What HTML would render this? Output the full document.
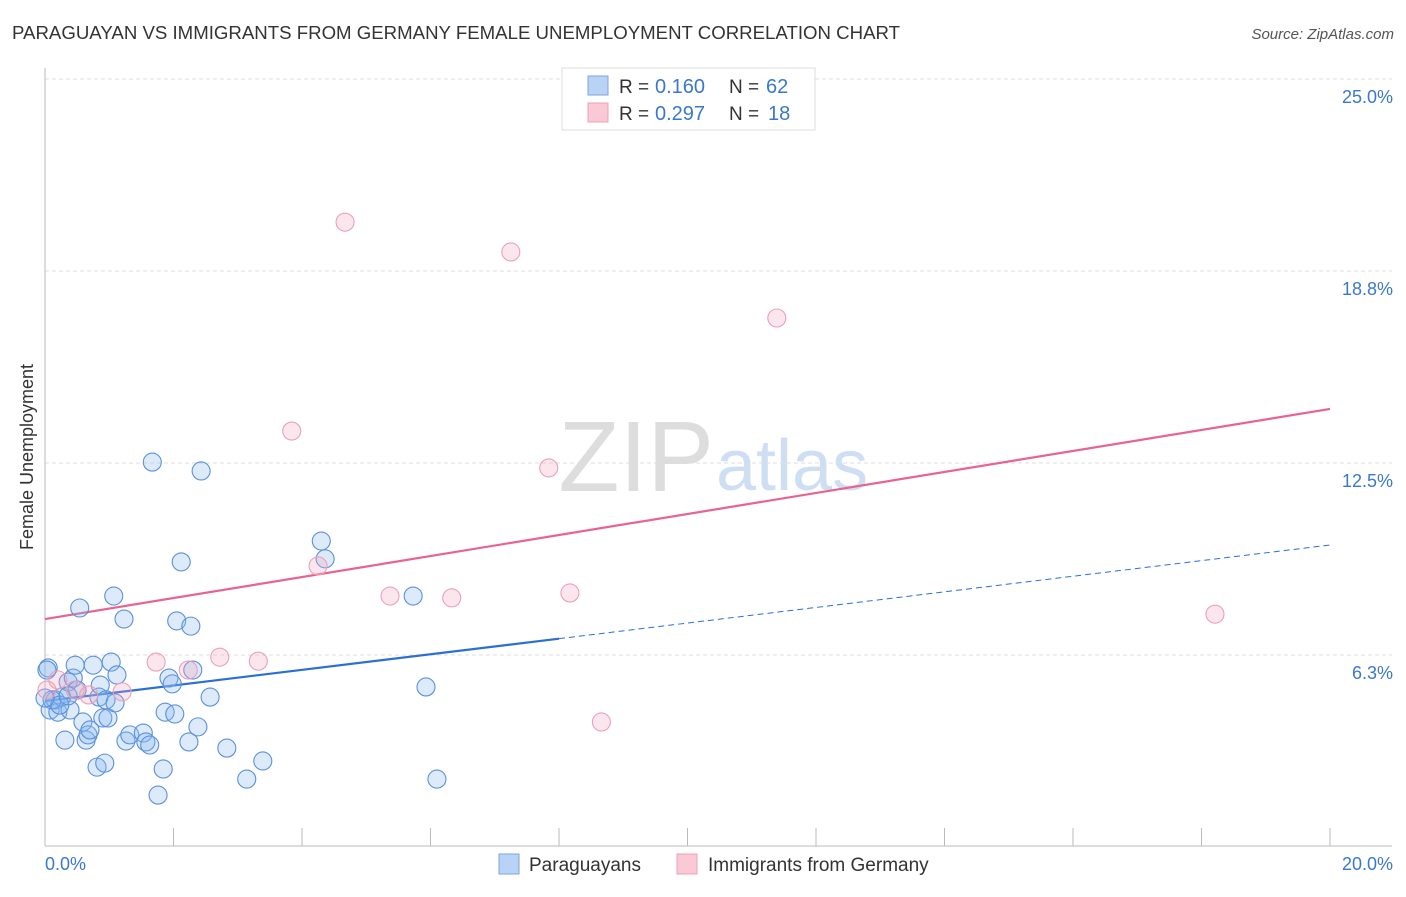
<!DOCTYPE html>
<html><head><meta charset="utf-8"><style>
body{margin:0;background:#fff;font-family:"Liberation Sans",sans-serif;}
svg text{font-family:"Liberation Sans",sans-serif;}
</style></head><body>
<svg width="1406" height="892">
<text x="12" y="39" font-size="18" fill="#333" textLength="888" lengthAdjust="spacingAndGlyphs">PARAGUAYAN VS IMMIGRANTS FROM GERMANY FEMALE UNEMPLOYMENT CORRELATION CHART</text>
<text x="1394" y="39" font-size="15" fill="#555" font-style="italic" text-anchor="end">Source: ZipAtlas.com</text>
<g id="grid"></g>
<text x="714" y="491" font-size="100" fill="#ddd" text-anchor="end" font-family="Liberation Serif,serif">ZIP</text>
<text x="716" y="490" font-size="72" fill="#cfdff3">atlas</text>
<line x1="45" y1="68" x2="45" y2="846" stroke="#bbb"/>
<line x1="45" y1="846" x2="1392" y2="846" stroke="#bbb"/>
<text x="33" y="457" font-size="18" fill="#333" text-anchor="middle" transform="rotate(-90 33 457)">Female Unemployment</text>
<text x="45" y="870" font-size="18" fill="#3a78d0">0.0%</text>
<text x="1393" y="870" font-size="18" fill="#3a78d0" text-anchor="end">20.0%</text>
<g id="lines"></g>
<g id="pts"></g>
<g>
<rect x="562" y="68" width="253" height="62" fill="#fff" stroke="#ddd"/>
<rect x="588" y="76" width="20" height="19" fill="#b8d3f5" stroke="#7aa6e0"/>
<rect x="588" y="103" width="20" height="19" fill="#fbc8d6" stroke="#eca0b6"/>
<text x="619" y="93" font-size="19" fill="#333">R =</text>
<text x="655" y="93" font-size="20" fill="#3a78d0">0.160</text>
<text x="729" y="93" font-size="19" fill="#333">N =</text>
<text x="766" y="93" font-size="20" fill="#3a78d0">62</text>
<text x="619" y="120" font-size="19" fill="#333">R =</text>
<text x="655" y="120" font-size="20" fill="#3a78d0">0.297</text>
<text x="729" y="120" font-size="19" fill="#333">N =</text>
<text x="768" y="120" font-size="20" fill="#3a78d0">18</text>
</g>
<g>
<rect x="499" y="854" width="20" height="20" fill="#b8d3f5" stroke="#7aa6e0"/>
<text x="529" y="871" font-size="19" fill="#333">Paraguayans</text>
<rect x="677" y="854" width="20" height="20" fill="#fbc8d6" stroke="#eca0b6"/>
<text x="708" y="871" font-size="19" fill="#333">Immigrants from Germany</text>
</g>
</svg>
<script>
const yTicks=[6.25,12.5,18.75,25];
const yTickLabels=["6.3%","12.5%","18.8%","25.0%"];
const xTicks=[0,2,4,6,8,10,12,14,16,18,20];
const blueX=[0.05,0.03,0.08,0.16,0.20,0.26,0.31,0.36,0.39,0.44,0.47,0.50,0.54,0.59,0.64,0.67,0.70,0.75,0.81,0.84,0.86,0.90,0.93,0.95,0.98,1.03,1.07,1.09,1.12,1.23,1.26,1.32,1.53,1.57,1.63,1.67,1.76,1.84,1.87,1.93,1.98,2.02,2.05,2.12,2.24,2.27,2.30,2.38,2.43,2.57,2.83,3.14,3.39,4.30,4.36,5.73,5.93,6.10,0.11,0.23,0.00,0.36];
const blueY=[5.83,5.76,4.46,4.79,4.39,4.88,3.48,5.37,4.46,5.50,5.92,5.11,7.78,4.07,3.48,3.65,3.81,5.92,2.60,4.88,5.27,4.20,2.73,4.79,4.20,6.02,8.17,4.69,5.60,7.42,3.45,3.65,3.71,3.42,3.32,12.53,1.69,2.54,4.39,5.50,5.31,4.33,7.36,9.28,3.42,7.19,5.76,3.91,12.24,4.88,3.22,2.21,2.80,9.96,9.38,8.17,5.21,2.21,4.79,4.62,4.85,4.92];
const pinkX=[0.03,0.20,0.47,0.68,1.20,1.73,2.23,2.72,3.32,3.84,4.25,4.67,5.37,6.33,7.25,7.84,8.17,8.66,11.39,18.21];
const pinkY=[5.11,5.44,5.11,4.95,5.05,6.02,5.76,6.18,6.05,13.54,9.15,20.34,8.17,8.11,19.37,12.34,8.27,4.07,17.22,7.58];
const blueTrend=[4.75,9.83];
const pinkTrend=[7.42,14.26];
const blueSolidEnd=8;
const NS="http://www.w3.org/2000/svg";
const sx=v=>45+v*64.25, sy=v=>847-v*30.72;
function mk(tag,attrs,parent){const e=document.createElementNS(NS,tag);for(const k in attrs)e.setAttribute(k,attrs[k]);parent.appendChild(e);return e;}
const grid=document.getElementById('grid');
yTicks.forEach((t,i)=>{
 const l=mk('line',{x1:45,x2:1392,y1:sy(t),y2:sy(t),stroke:'#ddd','stroke-dasharray':'4,3'},grid);
 
 
 const tx=mk('text',{x:1393,y:sy(t)+24,'font-size':18,fill:'#3a78d0','text-anchor':'end'},grid);
 tx.textContent=yTickLabels[i];
 
 
});
xTicks.forEach(t=>{
 const l=mk('line',{x1:sx(t),x2:sx(t),y1:828,y2:846,stroke:'#bbb'},grid);
 
 
});
const lines=document.getElementById('lines');
const pl=mk('line',{x1:sx(0),y1:sy(pinkTrend[0]),x2:sx(20),y2:sy(pinkTrend[1]),stroke:'#e8648e','stroke-width':2.2},lines);


const bAt=v=>blueTrend[0]+(blueTrend[1]-blueTrend[0])*v/20;
const bl=mk('line',{x1:sx(0),y1:sy(bAt(0)),x2:sx(blueSolidEnd),y2:sy(bAt(blueSolidEnd)),stroke:'#2a6fd6','stroke-width':2.2},lines);


const bd=mk('line',{x1:sx(blueSolidEnd),y1:sy(bAt(blueSolidEnd)),x2:sx(20),y2:sy(bAt(20)),stroke:'#2a6fd6','stroke-width':1,'stroke-dasharray':'6,4'},lines);


const pts=document.getElementById('pts');
blueX.forEach((x,i)=>{
 const c=mk('circle',{cx:sx(x),cy:sy(blueY[i]),r:9,fill:'rgba(140,185,240,0.3)',stroke:'#5a90dc','stroke-width':1.1},pts);
 
 
});
pinkX.forEach((x,i)=>{
 const c=mk('circle',{cx:sx(x),cy:sy(pinkY[i]),r:9,fill:'rgba(245,165,190,0.28)',stroke:'#eba0b6','stroke-width':1.1},pts);
 
 
});
</script>
</body></html>
